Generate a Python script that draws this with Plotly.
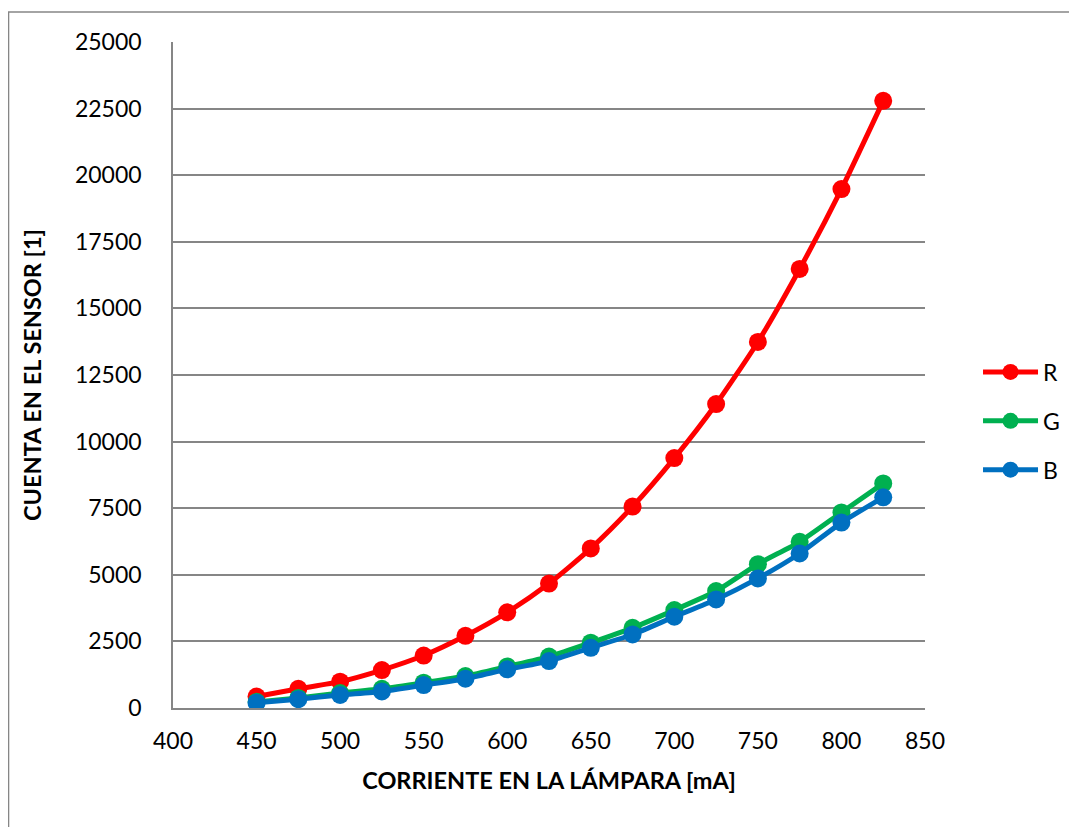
import plotly.graph_objects as go

corriente = [450, 475, 500, 525, 550, 575, 600, 625, 650, 675, 700, 725, 750, 775, 800, 825]
r_vals = [430, 720, 990, 1425, 1970, 2710, 3590, 4670, 5990, 7560, 9380, 11410, 13740, 16480, 19480, 22790]
g_vals = [230, 380, 560, 720, 950, 1200, 1560, 1930, 2450, 3010, 3675, 4390, 5400, 6240, 7340, 8430]
b_vals = [200, 330, 490, 620, 860, 1100, 1450, 1760, 2260, 2760, 3425, 4075, 4865, 5800, 6960, 7910]
series_names = ["R", "G", "B"]
series_colors = ["#FF0000", "#00B050", "#0070C0"]
y_ticks = [0, 2500, 5000, 7500, 10000, 12500, 15000, 17500, 20000, 22500, 25000]
x_ticks = [400, 450, 500, 550, 600, 650, 700, 750, 800, 850]

fig = go.Figure()
for i, (name, vals, col) in enumerate(zip(series_names, [r_vals, g_vals, b_vals], series_colors)):
    fig.add_trace(go.Scatter(
        x=corriente, y=vals, name=name, mode="lines+markers",
        line=dict(color=col, width=5, shape="spline", smoothing=0.6),
        marker=dict(color=col, size=18),
        legendgroup=name,
    ))

font_family = "Lato, Open Sans, sans-serif"
fig.update_layout(
    width=1077, height=827,
    margin=dict(l=165, r=160, t=34, b=127),
    paper_bgcolor="white", plot_bgcolor="white",
    font=dict(family=font_family, size=23, color="black"),
    showlegend=True,
    legend=dict(x=1.0705, y=0.431, xanchor="left", yanchor="middle",
                font=dict(size=23), itemwidth=55, tracegroupgap=16,
                bgcolor="rgba(0,0,0,0)"),
    xaxis=dict(range=[400, 850], tickvals=x_ticks, tickformat="d", showgrid=False,
               showline=True, linecolor="#868686", linewidth=1.5,
               ticks="", ticklabelstandoff=12, zeroline=False,
               title=dict(text="<b>CORRIENTE EN LA LÁMPARA [mA]</b>", font=dict(size=23.5), standoff=19)),
    yaxis=dict(range=[0, 25000], tickvals=y_ticks, tickformat="d", showgrid=True,
               gridcolor="#868686", gridwidth=1.5,
               showline=True, linecolor="#868686", linewidth=1.5,
               ticks="", ticklabelstandoff=25, zeroline=False,
               title=dict(text="<b>CUENTA EN EL SENSOR [1]</b>", font=dict(size=23.5), standoff=27)),
)
fig.add_shape(type="rect", xref="paper", yref="paper",
              x0=-0.2187, y0=1.045, x1=2, y1=-1,
              line=dict(color="#868686", width=1.5), fillcolor="rgba(0,0,0,0)", layer="below")

fig.write_html("out.html")
